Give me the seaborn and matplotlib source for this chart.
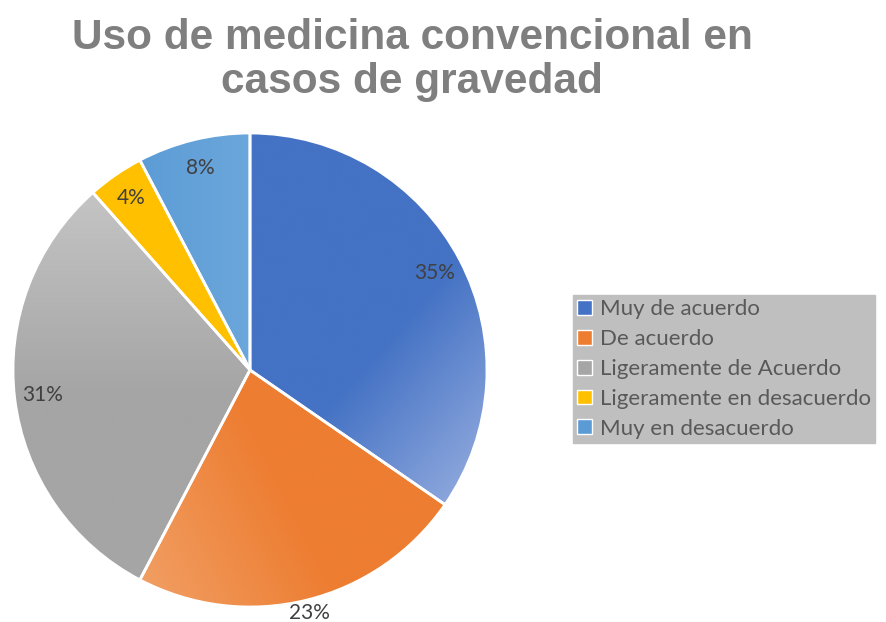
import matplotlib
matplotlib.use("Agg")
import matplotlib.pyplot as plt
from matplotlib.colors import to_rgb
from matplotlib.patches import Patch
import numpy as np
import seaborn as sns

# respuestas (conteos) por categoria
categories = ["Muy de acuerdo", "De acuerdo", "Ligeramente de Acuerdo",
              "Ligeramente en desacuerdo", "Muy en desacuerdo"]
counts = [9, 6, 8, 1, 2]
colors = ["#4472C4", "#ED7D31", "#A5A5A5", "#FFC000", "#5B9BD5"]
# degradado: color claro, direccion, rango de proyeccion
light = ["#8CA6DC", "#F2A46C", "#C6C6C6", "#FFC000", "#6DA8DC"]
grad_dir = [(0.75, -0.66), (-0.9, -0.45), (0.0, 1.0), (0.0, 1.0), (1.0, 0.0)]
grad_rng = [(0.35, 1.0), (0.1, 0.95), (-0.1, 0.8), (0.0, 1.0), (-0.5, 0.05)]

sns.set_theme(style="white")
plt.rcParams['font.family'] = ['Lato', 'DejaVu Sans']

fig = plt.figure(figsize=(8.87, 6.22), dpi=100)
ax = fig.add_axes([13 / 887, 15 / 622, 474 / 887, 474 / 622])

wedges, texts, pcts = ax.pie(
    counts, colors=colors, startangle=90, counterclock=False,
    autopct=lambda p: f"{p:.0f}%", pctdistance=0.88,
    wedgeprops=dict(edgecolor="white", linewidth=2),
    textprops=dict(color="#404040", fontsize=15),
)
# la etiqueta de 23% queda fuera del circulo
x, y = pcts[1].get_position()
pcts[1].set_position((x * 1.2, y * 1.2))

# relleno con degradado recortado a cada porcion
gx, gy = np.meshgrid(np.linspace(-1, 1, 300), np.linspace(1, -1, 300))
for w, c0, c1, d, (a, b) in zip(wedges, colors, light, grad_dir, grad_rng):
    t = np.clip(((gx * d[0] + gy * d[1]) - a) / (b - a), 0, 1)[..., None]
    img = np.array(to_rgb(c0)) * (1 - t) + np.array(to_rgb(c1)) * t
    im = ax.imshow(img, extent=(-1, 1, -1, 1), zorder=1, interpolation="bilinear")
    im.set_clip_path(w)
    w.set_facecolor("none")
    w.set_zorder(2)
for p in pcts:
    p.set_zorder(3)

ax.set_xlim(-1, 1)
ax.set_ylim(-1, 1)
ax.set_aspect("equal")
ax.axis("off")

fig.text(412 / 887, 1 - 60 / 622, "Uso de medicina convencional en\ncasos de gravedad",
         ha="center", va="center", fontsize=30.5, fontweight="bold",
         color="#7F7F7F", family=["Liberation Sans", "DejaVu Sans"],
         linespacing=1.12)

handles = [Patch(facecolor=c, edgecolor="white", linewidth=1) for c in colors]
leg = fig.legend(handles, categories, loc="upper left",
                 bbox_to_anchor=(573 / 887, 1 - 295 / 622),
                 frameon=True, fancybox=False, facecolor="#BFBFBF",
                 edgecolor="#BFBFBF", framealpha=1, fontsize=16,
                 handlelength=0.65, handleheight=0.65, handletextpad=0.36,
                 labelspacing=0.44, borderpad=0.2, borderaxespad=0)
for t in leg.get_texts():
    t.set_color("#595959")

fig.savefig("out.png", dpi=100)
